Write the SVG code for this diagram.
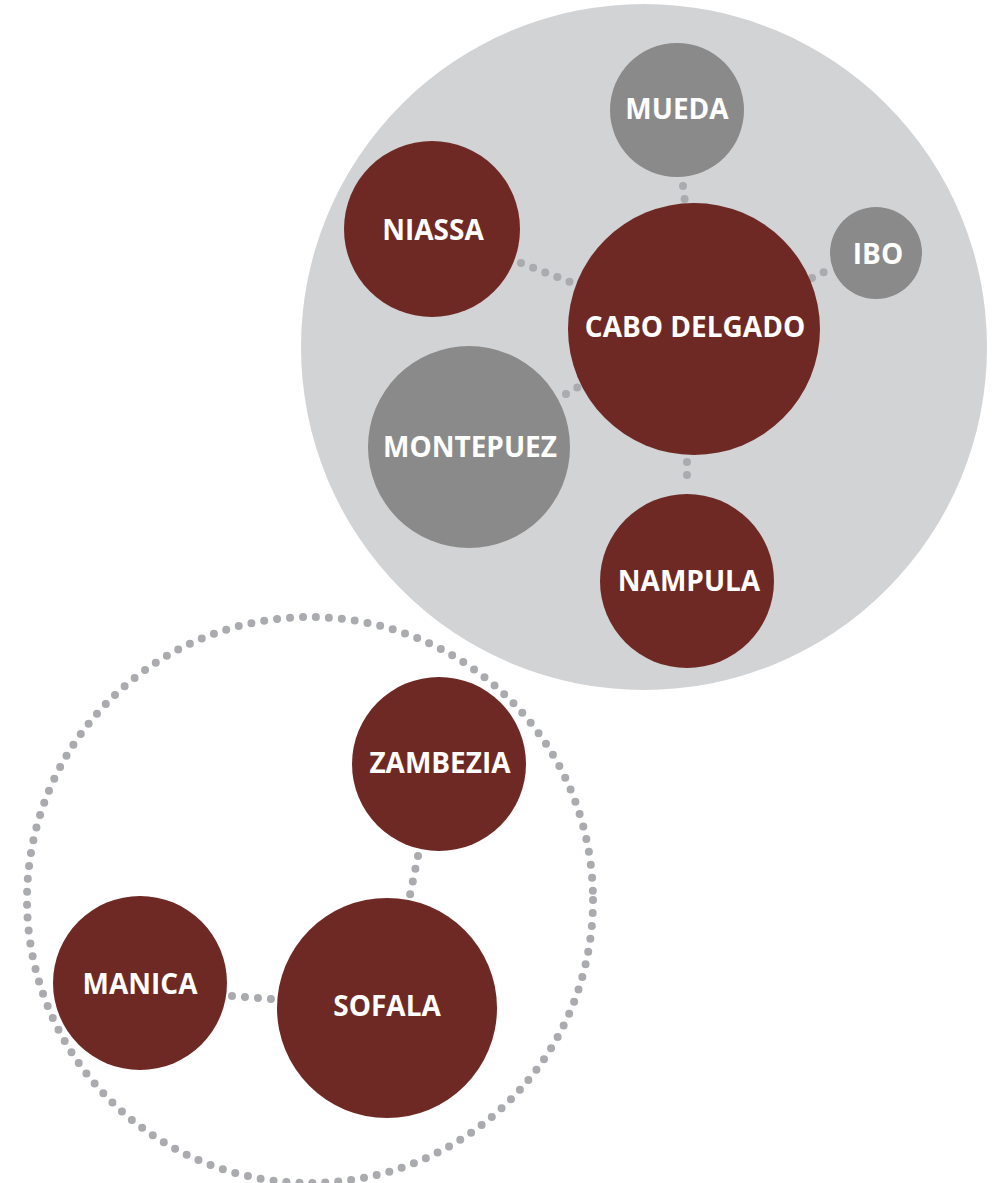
<svg xmlns="http://www.w3.org/2000/svg" width="999" height="1183" viewBox="0 0 999 1183">
<style>
.bg{fill:#d1d3d5}
.red{fill:#6f2924}
.gray{fill:#8a8a8a}
.dot{fill:none;stroke:#aaabae;stroke-width:8;stroke-linecap:round;stroke-dasharray:0 13}
.lbl{font-family:"Open Sans","Liberation Sans",sans-serif;font-weight:700;font-size:28px;fill:#ffffff;text-anchor:middle}
</style>
<rect width="999" height="1183" fill="#ffffff"/>
<g id="cluster-north">
<circle class="bg" cx="644" cy="347" r="343"/>
</g>
<g id="cluster-central">
<circle class="dot" cx="310" cy="900" r="283"/>
</g>
<g id="connectors">
<line class="dot" x1="683" y1="186" x2="685" y2="202"/>
<line class="dot" x1="521" y1="263" x2="570" y2="282"/>
<line class="dot" x1="812" y1="278" x2="826" y2="271"/>
<line class="dot" x1="566" y1="394" x2="578" y2="387"/>
<line class="dot" x1="687" y1="462" x2="687" y2="488"/>
<line class="dot" x1="418" y1="856" x2="410" y2="895"/>
<line class="dot" x1="232" y1="996" x2="271" y2="999"/>
</g>
<g id="mueda"><circle class="gray" cx="677" cy="110" r="67"/><text class="lbl" x="677" y="119">MUEDA</text></g>
<g id="niassa"><circle class="red" cx="432" cy="229" r="88"/><text class="lbl" x="433" y="240">NIASSA</text></g>
<g id="ibo"><circle class="gray" cx="876" cy="253" r="46"/><text class="lbl" x="878" y="264">IBO</text></g>
<g id="cabo-delgado"><circle class="red" cx="694" cy="329" r="126"/><text class="lbl" x="695" y="337">CABO DELGADO</text></g>
<g id="montepuez"><circle class="gray" cx="469" cy="447" r="101"/><text class="lbl" x="470" y="457">MONTEPUEZ</text></g>
<g id="nampula"><circle class="red" cx="687" cy="581" r="87"/><text class="lbl" x="689" y="591">NAMPULA</text></g>
<g id="zambezia"><circle class="red" cx="439" cy="764" r="87"/><text class="lbl" x="440" y="773">ZAMBEZIA</text></g>
<g id="manica"><circle class="red" cx="140" cy="983" r="87"/><text class="lbl" x="140" y="994">MANICA</text></g>
<g id="sofala"><circle class="red" cx="387" cy="1008" r="110"/><text class="lbl" x="387" y="1016">SOFALA</text></g>
</svg>
